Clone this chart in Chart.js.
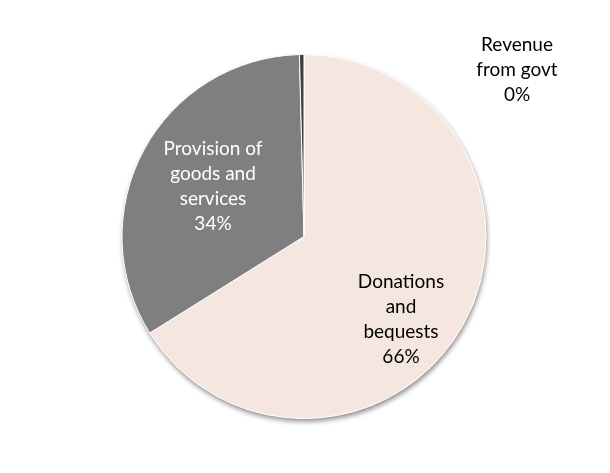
<!DOCTYPE html>
<html>
<head>
<meta charset="utf-8">
<script src="https://cdn.jsdelivr.net/npm/chart.js@4"></script>
<style>
  html, body { margin: 0; padding: 0; background: #fff; }
  #wrap { width: 610px; height: 473px; position: relative; }
</style>
</head>
<body>
<div id="wrap"><canvas id="pie"></canvas></div>
<script>
// data
const categories = ['Donations and bequests', 'Provision of goods and services', 'Revenue from govt'];
const values = [66.1, 33.5, 0.4];
const labelLines = [
    ['Donations', 'and', 'bequests'],
    ['Provision of', 'goods and', 'services'],
    ['Revenue', 'from govt']
];
const sliceColors = ['#F5E6E0', '#7F7F7F', '#404040'];
const labelColors = ['#000000', '#FFFFFF', '#000000'];

// where each label block sits, relative to the pie centre
const labelOffsets = [[97, 83], [-91, -50], [213, -167]];

const total = values.reduce((a, b) => a + b, 0);

const shadowPlugin = {
    id: 'pieShadow',
    beforeDatasetsDraw(chart) {
        const arc = chart.getDatasetMeta(0).data[0];
        if (!arc) return;
        const ctx = chart.ctx;
        ctx.save();
        ctx.shadowColor = 'rgba(0,0,0,0.45)';
        ctx.shadowBlur = 5;
        ctx.shadowOffsetX = 1;
        ctx.shadowOffsetY = 3;
        ctx.fillStyle = '#ffffff';
        ctx.beginPath();
        ctx.arc(arc.x, arc.y, arc.outerRadius, 0, Math.PI * 2);
        ctx.fill();
        ctx.restore();
    }
};

const labelPlugin = {
    id: 'sliceLabels',
    afterDatasetsDraw(chart) {
        const meta = chart.getDatasetMeta(0);
        const ctx = chart.ctx;
        const lineH = 25;
        ctx.save();
        ctx.font = '19px Lato, "Open Sans", sans-serif';
        ctx.textAlign = 'center';
        ctx.textBaseline = 'middle';
        meta.data.forEach((arc, i) => {
            const pct = Math.round(values[i] / total * 100) + '%';
            const lines = labelLines[i].concat([pct]);
            const cx = arc.x + labelOffsets[i][0];
            const cy = arc.y + labelOffsets[i][1];
            const top = cy - (lines.length - 1) * lineH / 2;
            ctx.fillStyle = labelColors[i];
            lines.forEach((t, j) => ctx.fillText(t, cx, top + j * lineH));
        });
        ctx.restore();
    }
};

new Chart(
    document.getElementById('pie').getContext('2d'),
    {
        type: 'pie',
        data: {
            labels: categories,
            datasets: [{
                data: values,
                backgroundColor: sliceColors,
                borderColor: '#ffffff',
                borderWidth: 1
            }]
        },
        options: {
            responsive: true,
            maintainAspectRatio: false,
            animation: false,
            layout: {
                padding: { top: 54, bottom: 54, left: 0, right: 2 }
            },
            plugins: {
                legend: { display: false },
                tooltip: { enabled: false },
                title: { display: false }
            }
        },
        plugins: [shadowPlugin, labelPlugin]
    }
);
</script>
</body>
</html>
